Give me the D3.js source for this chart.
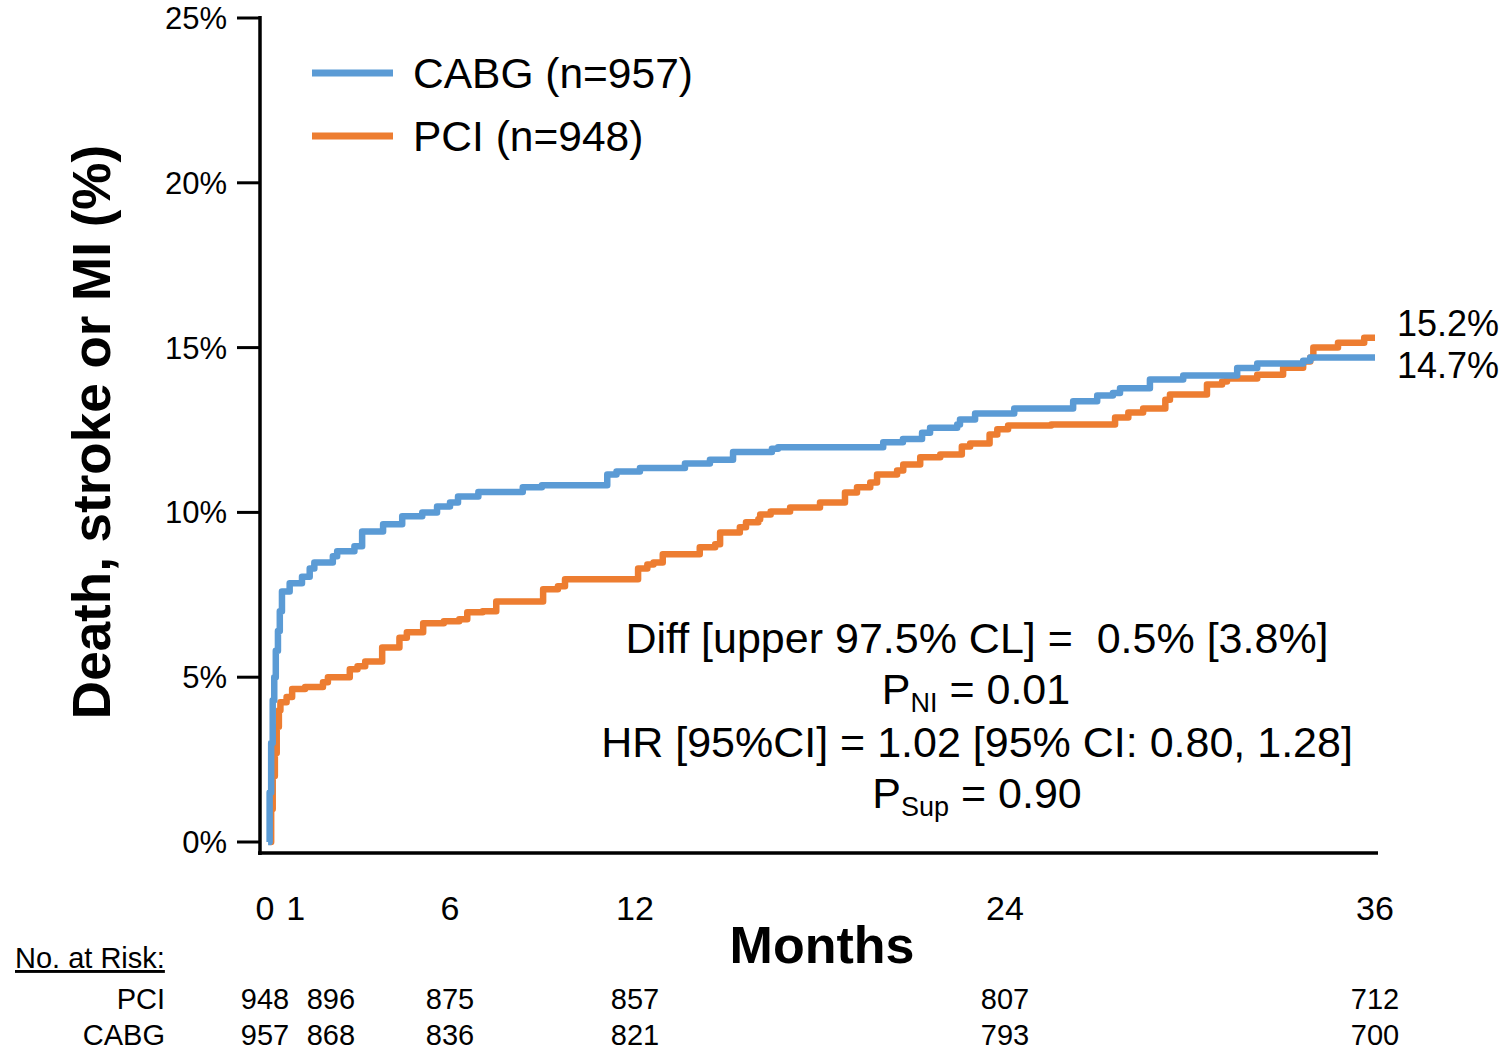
<!DOCTYPE html>
<html>
<head>
<meta charset="utf-8">
<script src="https://cdn.jsdelivr.net/npm/d3@7"></script>
<style>
  body { margin: 0; background: #fff; }
  svg { display: block; font-family: "Liberation Sans", Arial, sans-serif; }
  text { white-space: pre; }
</style>
</head>
<body>
<svg id="km" width="1511" height="1053"></svg>
<script>
// cumulative incidence, [month, %] events (step after)
const cabgMonths = [0.1, 0.15, 0.2, 0.25, 0.3, 0.35, 0.42, 0.48, 0.55, 0.8, 1.2, 1.45, 1.6, 2.2, 2.34, 2.9, 3.15, 3.83, 4.45, 5.1, 5.58, 6.0, 6.26, 6.92, 8.36, 8.98, 11.1, 11.4, 12.16, 13.62, 14.43, 15.18, 16.44, 16.64, 20.05, 20.69, 21.31, 21.57, 22.45, 22.54, 23.03, 24.3, 26.21, 26.99, 27.5, 27.73, 28.7, 29.78, 31.53, 32.18, 33.67, 33.9, 36];
const cabgPct = [0, 1.5, 3.0, 4.3, 5.0, 5.8, 6.4, 7.0, 7.6, 7.85, 8.05, 8.3, 8.48, 8.67, 8.82, 8.97, 9.42, 9.64, 9.88, 10.0, 10.18, 10.3, 10.48, 10.62, 10.76, 10.82, 11.15, 11.24, 11.35, 11.48, 11.6, 11.83, 11.93, 11.98, 12.13, 12.23, 12.42, 12.57, 12.67, 12.82, 13.0, 13.15, 13.37, 13.55, 13.62, 13.77, 14.03, 14.15, 14.38, 14.52, 14.6, 14.7, 14.7];

const pciMonths = [0.15, 0.2, 0.25, 0.32, 0.38, 0.45, 0.5, 0.7, 0.88, 1.3, 1.88, 2.04, 2.75, 3.0, 3.25, 3.8, 4.36, 4.6, 5.13, 5.8, 6.3, 6.56, 7.06, 7.5, 9.02, 9.5, 9.73, 12.1, 12.4, 12.6, 12.9, 14.1, 14.6, 14.76, 15.4, 15.6, 16.0, 16.06, 16.4, 17.03, 18.0, 18.81, 19.2, 19.63, 19.85, 20.5, 20.7, 21.25, 21.9, 22.6, 22.87, 23.5, 23.75, 24.1, 25.5, 27.57, 28.0, 28.48, 29.2, 29.35, 30.55, 31.04, 31.2, 32.18, 33.02, 33.67, 33.9, 34.0, 34.8, 35.65, 36];
const pciPct = [0, 1.0, 2.0, 2.7, 3.5, 4.0, 4.24, 4.4, 4.64, 4.7, 4.85, 5.0, 5.24, 5.33, 5.48, 5.9, 6.2, 6.36, 6.64, 6.7, 6.76, 6.97, 7.0, 7.3, 7.67, 7.76, 7.97, 8.3, 8.42, 8.48, 8.73, 8.94, 9.03, 9.39, 9.55, 9.7, 9.79, 9.94, 10.03, 10.15, 10.3, 10.6, 10.76, 10.91, 11.15, 11.27, 11.45, 11.67, 11.76, 12.0, 12.09, 12.36, 12.52, 12.64, 12.67, 12.88, 13.03, 13.15, 13.42, 13.58, 13.88, 13.97, 14.06, 14.18, 14.39, 14.58, 14.7, 15.0, 15.15, 15.3, 15.3];

const yTicks = [0, 5, 10, 15, 20, 25];
const xTicks = [0, 1, 6, 12, 24, 36];
const riskPCI = [948, 896, 875, 857, 807, 712];
const riskCABG = [957, 868, 836, 821, 793, 700];
const endLabels = ['15.2%', '14.7%'];

const BLUE = '#5b9bd5';
const ORANGE = '#ed7d31';

const svg = d3.select('#km');
const x = d3.scaleLinear().domain([0, 36]).range([265, 1375]);
const y = d3.scaleLinear().domain([0, 25]).range([842, 18]);

// axes
svg.append('line').attr('x1', 260).attr('x2', 260).attr('y1', 16).attr('y2', 855)
  .attr('stroke', '#000').attr('stroke-width', 3.5);
svg.append('line').attr('x1', 258).attr('x2', 1378).attr('y1', 853).attr('y2', 853)
  .attr('stroke', '#000').attr('stroke-width', 3.5);

svg.selectAll('.ytick').data(yTicks).enter().append('line')
  .attr('x1', 237).attr('x2', 260)
  .attr('y1', d => y(d)).attr('y2', d => y(d))
  .attr('stroke', '#000').attr('stroke-width', 3);

svg.selectAll('.ylab').data(yTicks).enter().append('text')
  .attr('x', 227).attr('y', d => y(d) + 11)
  .attr('text-anchor', 'end').attr('font-size', 31)
  .text(d => d + '%');

svg.selectAll('.xlab').data(xTicks).enter().append('text')
  .attr('x', d => x(d)).attr('y', 920)
  .attr('text-anchor', 'middle').attr('font-size', 34)
  .text(d => d);

// titles
svg.append('text')
  .attr('transform', 'translate(110,432) rotate(-90)')
  .attr('text-anchor', 'middle').attr('font-size', 53).attr('font-weight', 'bold')
  .text('Death, stroke or MI (%)');
svg.append('text')
  .attr('x', 822).attr('y', 963)
  .attr('text-anchor', 'middle').attr('font-size', 52).attr('font-weight', 'bold')
  .text('Months');

// curves
const line = d3.line().x(d => x(d[0])).y(d => y(d[1])).curve(d3.curveStepAfter);
const series = [
  { name: 'PCI', color: ORANGE, pts: d3.zip(pciMonths, pciPct) },
  { name: 'CABG', color: BLUE, pts: d3.zip(cabgMonths, cabgPct) },
];
svg.selectAll('.curve').data(series).enter().append('path')
  .attr('d', d => line(d.pts))
  .attr('fill', 'none').attr('stroke', d => d.color)
  .attr('stroke-width', 6.5).attr('stroke-linejoin', 'round');

// end labels
svg.selectAll('.endlab').data(endLabels).enter().append('text')
  .attr('x', 1397).attr('y', (d, i) => i === 0 ? 336 : 378)
  .attr('font-size', 36).text(d => d);

// legend
const legend = [
  { label: 'CABG (n=957)', color: BLUE },
  { label: 'PCI (n=948)', color: ORANGE },
];
const lg = svg.selectAll('.leg').data(legend).enter().append('g')
  .attr('transform', (d, i) => `translate(0,${73 + i * 63})`);
lg.append('line').attr('x1', 312).attr('x2', 393)
  .attr('stroke', d => d.color).attr('stroke-width', 7);
lg.append('text').attr('x', 413).attr('y', 15).attr('font-size', 42.5).text(d => d.label);

// stats annotation
const ann = svg.append('g').attr('text-anchor', 'middle').attr('font-size', 43);
ann.append('text').attr('x', 977).attr('y', 653).text('Diff [upper 97.5% CL] =  0.5% [3.8%]');
const pni = ann.append('text').attr('x', 976).attr('y', 704);
pni.append('tspan').text('P');
pni.append('tspan').attr('font-size', 27).attr('dy', 8).text('NI');
pni.append('tspan').attr('dy', -8).text(' = 0.01');
ann.append('text').attr('x', 977).attr('y', 757).text('HR [95%CI] = 1.02 [95% CI: 0.80, 1.28]');
const psup = ann.append('text').attr('x', 977).attr('y', 808);
psup.append('tspan').text('P');
psup.append('tspan').attr('font-size', 27).attr('dy', 8).text('Sup');
psup.append('tspan').attr('dy', -8).text(' = 0.90');

// number at risk
svg.append('text').attr('x', 15).attr('y', 968).attr('font-size', 29)
  .attr('text-decoration', 'underline').text('No. at Risk:');
const rows = [
  { label: 'PCI', vals: riskPCI, y: 1009 },
  { label: 'CABG', vals: riskCABG, y: 1045 },
];
rows.forEach(r => {
  svg.append('text').attr('x', 165).attr('y', r.y).attr('text-anchor', 'end')
    .attr('font-size', 29).text(r.label);
  svg.selectAll(null).data(r.vals).enter().append('text')
    .attr('x', (d, i) => x(xTicks[i]) + (xTicks[i] === 1 ? 35 : 0))
    .attr('y', r.y).attr('text-anchor', 'middle').attr('font-size', 29)
    .text(d => d);
});
</script>
</body>
</html>
